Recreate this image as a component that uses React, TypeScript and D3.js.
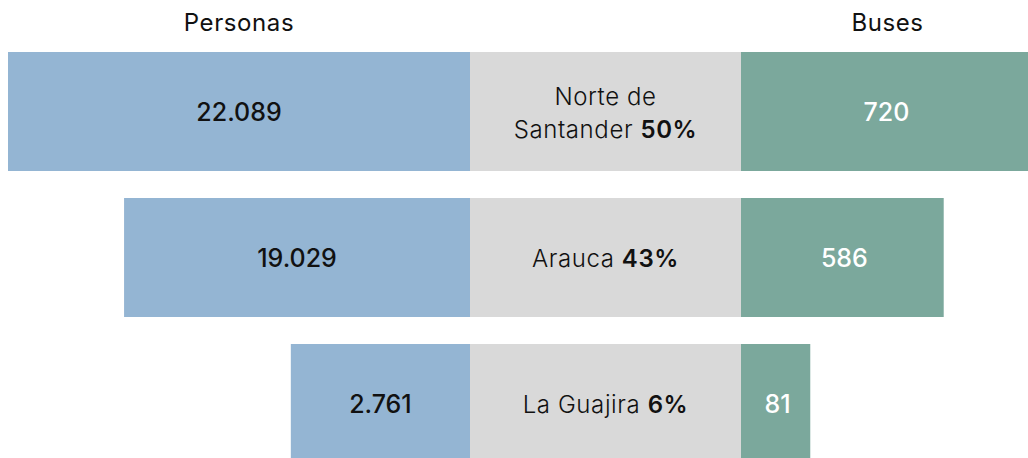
import React from "react";
import * as d3 from "d3";

const departments = ["Norte de Santander", "Arauca", "La Guajira"];
const labelLines = [["Norte de", "Santander"], ["Arauca"], ["La Guajira"]];
const personas = [22089, 19029, 2761];
const buses = [720, 586, 81];
const shares = ["50%", "43%", "6%"];
const headers = ["Personas", "Buses"];

const W = 1028;
const H = 458;
const M = 8;
const midL = 462;
const midR = 733;
const rowH = 119;
const BLUE = "#94b5d3";
const GRAY = "#d9d9d9";
const GREEN = "#7ba89c";
const FONT = "Inter, 'Noto Sans', sans-serif";

export default function App() {
  const y = d3
    .scaleBand<number>()
    .domain(d3.range(departments.length))
    .range([44, 44 + 3 * rowH + 2 * 27])
    .paddingInner(27 / (rowH + 27));

  const leftW = d3
    .scalePow()
    .exponent(3.54)
    .domain([0, d3.max(personas) as number])
    .range([179, midL]);
  const rightW = d3
    .scalePow()
    .exponent(2.36)
    .domain([0, d3.max(buses) as number])
    .range([68, 1020 - midR]);

  const fmt = d3.formatLocale({ decimal: ",", thousands: ".", grouping: [3], currency: ["", ""] }).format(",d");

  return (
    <>
      <style>{`body{margin:0;overflow:hidden}`}</style>
      <svg width={W} height={H} style={{ display: "block" }}>
        <g transform={`translate(${M},${M})`} fontFamily={FONT}>
          <text x={midL - leftW(personas[0]) / 2} y={23} textAnchor="middle" fontSize={24} fontWeight={400} letterSpacing={0.6} fill="#111">
            {headers[0]}
          </text>
          <text x={midR + rightW(buses[0]) / 2 + 3} y={23} textAnchor="middle" fontSize={24} fontWeight={400} letterSpacing={0.6} fill="#111">
            {headers[1]}
          </text>
          {departments.map((d, i) => {
            const y0 = y(i) as number;
            const bh = y.bandwidth();
            const cy = y0 + bh / 2;
            const lw = leftW(personas[i]);
            const rw = rightW(buses[i]);
            const lines = labelLines[i];
            const cx = (midL + midR) / 2;
            return (
              <g key={d}>
                <rect x={midL - lw} y={y0} width={lw} height={bh} fill={BLUE} />
                <rect x={midL} y={y0} width={midR - midL} height={bh} fill={GRAY} />
                <rect x={midR} y={y0} width={rw} height={bh} fill={GREEN} />
                <text x={midL - lw / 2} y={cy + 9} textAnchor="middle" fontSize={25} fontWeight={500} fill="#111">
                  {fmt(personas[i])}
                </text>
                <text x={midR + rw / 2 + 2} y={cy + 9} textAnchor="middle" fontSize={25} fontWeight={500} fill="#fff">
                  {fmt(buses[i])}
                </text>
                {lines.length === 2 ? (
                  <text textAnchor="middle" fontSize={24} fontWeight={300} letterSpacing={0.6} fill="#111">
                    <tspan x={cx} y={cy - 7}>{lines[0]}</tspan>
                    <tspan x={cx} y={cy + 26}>
                      {lines[1] + " "}
                      <tspan fontWeight={600}>{shares[i]}</tspan>
                    </tspan>
                  </text>
                ) : (
                  <text x={cx} y={cy + 9} textAnchor="middle" fontSize={24} fontWeight={300} letterSpacing={0.6} fill="#111">
                    {lines[0] + " "}
                    <tspan fontWeight={600}>{shares[i]}</tspan>
                  </text>
                )}
              </g>
            );
          })}
        </g>
      </svg>
    </>
  );
}
